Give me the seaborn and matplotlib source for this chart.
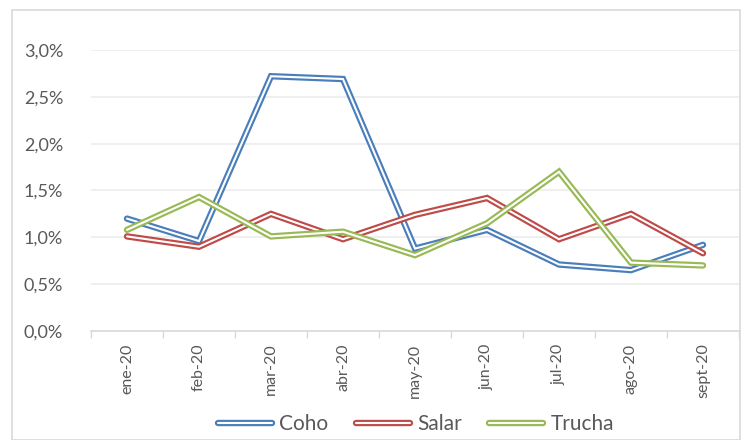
import matplotlib
matplotlib.use("Agg")
import matplotlib.pyplot as plt
import matplotlib.patheffects as pe
from matplotlib.patches import Rectangle
from matplotlib.ticker import FuncFormatter, FixedLocator
import pandas as pd
import seaborn as sns

# Data
months = ["ene-20", "feb-20", "mar-20", "abr-20", "may-20",
          "jun-20", "jul-20", "ago-20", "sept-20"]
coho = [1.20, 0.96, 2.72, 2.69, 0.88, 1.08, 0.71, 0.65, 0.92]
salar = [1.01, 0.90, 1.25, 0.98, 1.24, 1.42, 0.98, 1.25, 0.83]
trucha = [1.08, 1.43, 1.01, 1.06, 0.81, 1.15, 1.70, 0.73, 0.70]

series_names = ["Coho", "Salar", "Trucha"]
colors = ["#4a7ebb", "#be4b48", "#98b954"]

df = pd.DataFrame({"mes": months, "Coho": coho, "Salar": salar, "Trucha": trucha})
long = df.melt(id_vars="mes", var_name="serie", value_name="valor")
long["x"] = long["mes"].map({m: i for i, m in enumerate(months)})

sns.set_style("white")
plt.rcParams["font.family"] = ["Lato", "DejaVu Sans"]

fig = plt.figure(figsize=(7.42, 4.40), dpi=100)
ax = fig.add_axes([91 / 742, 1 - 331 / 440, (739 - 91) / 742, (331 - 50) / 440])

# outer chart border
fig.patches.append(Rectangle((12 / 742, 0.0), (740 - 12) / 742, 1 - 10 / 440,
                             transform=fig.transFigure, fill=False,
                             edgecolor="#d9d9d9", linewidth=1.2))

LW_OUT, LW_IN = 4.6, 1.5

sns.lineplot(data=long, x="x", y="valor", hue="serie", hue_order=series_names,
             palette=colors, linewidth=LW_OUT, ax=ax, legend=False)

# double-line look: white core over the coloured stroke
for line in ax.get_lines():
    line.set_path_effects([pe.Stroke(linewidth=LW_OUT, foreground=line.get_color()),
                           pe.Stroke(linewidth=LW_IN, foreground="white")])
    line.set_solid_joinstyle("miter")

ax.set_xlim(-0.5, len(months) - 0.5)
ax.set_ylim(0, 3.0)
ax.set_yticks([0, 0.5, 1.0, 1.5, 2.0, 2.5, 3.0])
ax.yaxis.set_major_formatter(FuncFormatter(lambda v, p: f"{v:.1f}%".replace(".", ",")))
ax.set_xticks(range(len(months)))
ax.set_xticklabels(months, rotation=90)
ax.xaxis.set_minor_locator(FixedLocator([i - 0.5 for i in range(len(months) + 1)]))
ax.tick_params(axis="x", which="major", length=0, pad=9, labelsize=11.5, labelcolor="#595959")
ax.tick_params(axis="x", which="minor", length=5, color="#d9d9d9", width=1, bottom=True)
ax.tick_params(axis="y", length=0, pad=20, labelsize=13, labelcolor="#595959")
ax.set_xlabel("")
ax.set_ylabel("")

ax.grid(axis="y", color="#ececec", linewidth=1.2)
for side in ["top", "right", "left"]:
    ax.spines[side].set_visible(False)
ax.spines["bottom"].set_color("#d9d9d9")
ax.spines["bottom"].set_linewidth(1.2)

# legend with double-line handles
handles = []
for name, c in zip(series_names, colors):
    h, = ax.plot([], [], color=c, linewidth=LW_OUT, label=name)
    h.set_path_effects([pe.Stroke(linewidth=LW_OUT, foreground=c),
                        pe.Stroke(linewidth=LW_IN, foreground="white")])
    handles.append(h)
fig.legend(handles=handles, labels=series_names, loc="center",
           bbox_to_anchor=(416 / 742, 1 - 424 / 440), ncol=3, frameon=False,
           fontsize=15, labelcolor="#595959", handlelength=2.6,
           handletextpad=0.35, columnspacing=1.3)

fig.savefig("out.png", dpi=100)
